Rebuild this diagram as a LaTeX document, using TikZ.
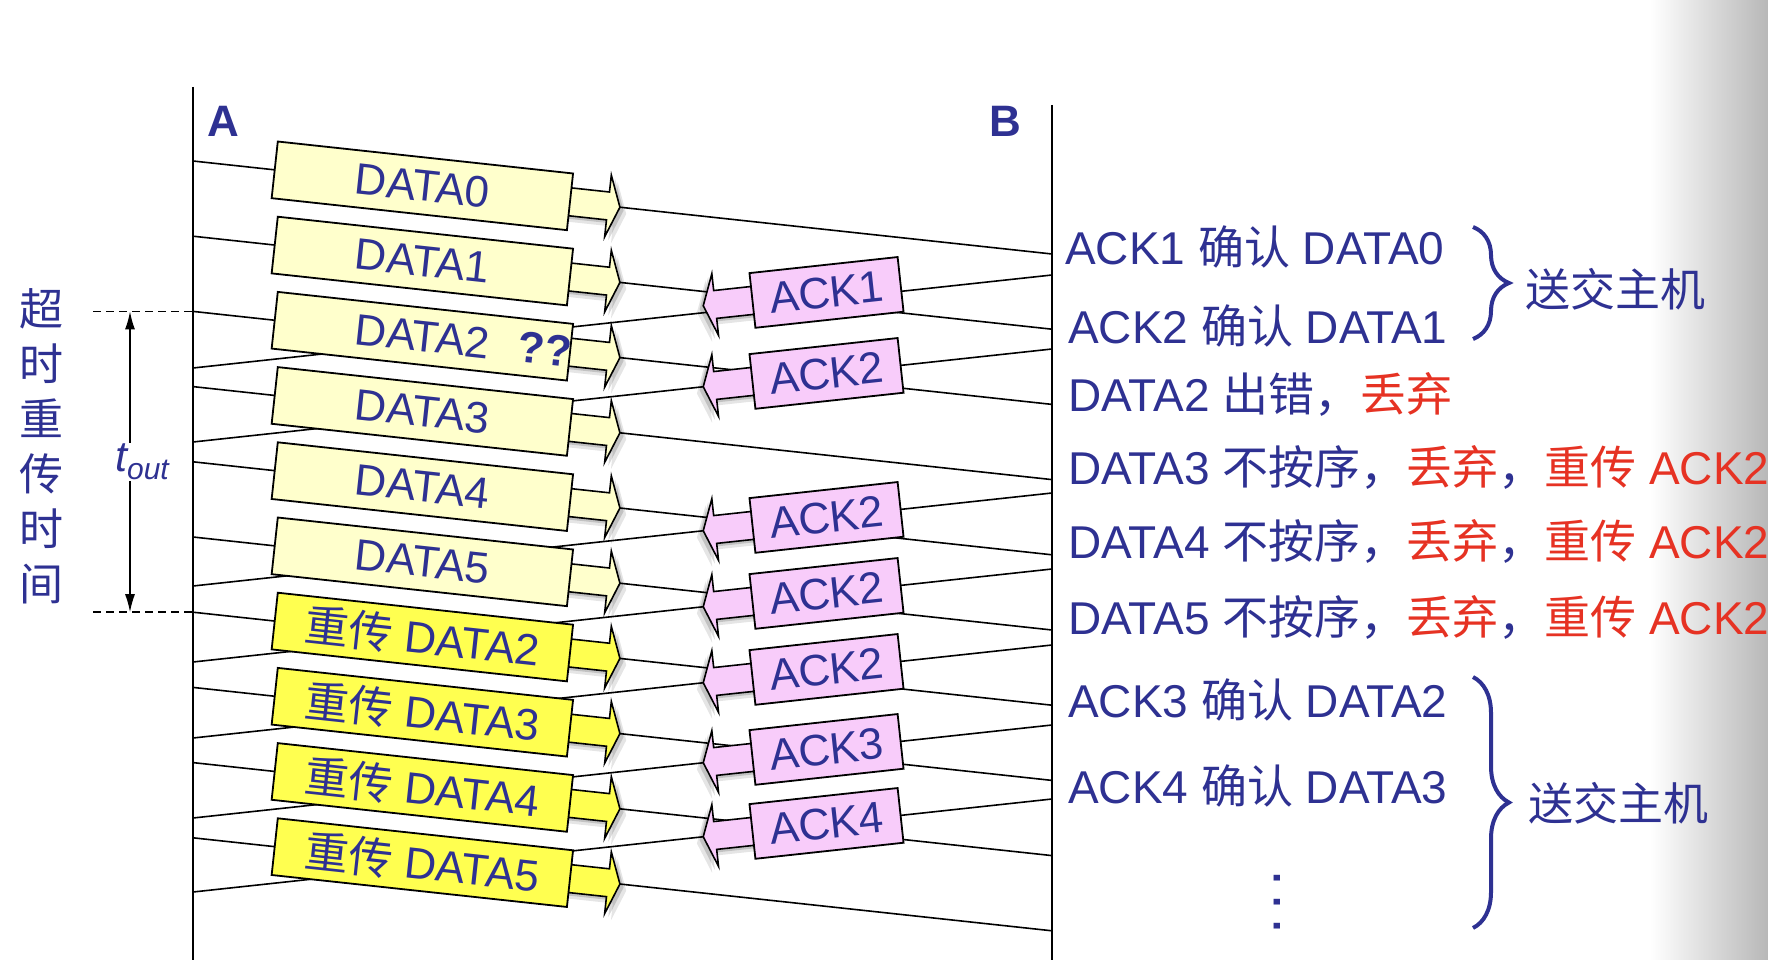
\documentclass[tikz,border=0pt]{standalone}
\usepackage{fontspec}
\setmainfont{Liberation Sans}
\newfontfamily\cjkfont{Noto Sans CJK SC}
\usetikzlibrary{calc,arrows.meta,decorations.pathreplacing}
\definecolor{tblue}{RGB}{46,49,146}
\definecolor{tred}{RGB}{230,50,35}
\definecolor{dyel}{RGB}{255,255,204}
\definecolor{ryel}{RGB}{255,255,80}
\definecolor{apink}{RGB}{248,204,250}
\newcommand\zh[1]{{\cjkfont #1}}
\begin{document}
\begin{tikzpicture}[x=1pt,y=-1pt,
  pline/.style={line width=1.6pt},
  axisline/.style={line width=2pt},
  boxbase/.style={draw, line width=1.8pt, minimum width=297pt, minimum height=57pt, inner sep=0pt, text=tblue, font=\fontsize{44}{44}\selectfont},
  databox/.style={boxbase, fill=dyel},
  redobox/.style={boxbase, fill=ryel},
  ackbox/.style={boxbase, fill=apink, minimum width=149pt, minimum height=55pt},
  rtext/.style={anchor=base west, inner sep=0pt, text=tblue, font=\fontsize{46}{46}\selectfont},
  hbrace/.style={decorate, decoration={brace, amplitude=36pt}, draw=tblue, line width=4pt},
  dashline/.style={line width=1.5pt, dash pattern=on 8pt off 5pt},
  darrow/.pic={
    \fill[black, opacity=0.10] (7,6) -- (-5,-25) -- (-5,-8) -- (-53,-8) -- (-53,20) -- (-5,20) -- (-5,37) -- cycle;
    \fill[black, opacity=0.15] (4,3) -- (-8,-28) -- (-8,-11) -- (-56,-11) -- (-56,17) -- (-8,17) -- (-8,34) -- cycle;
    \draw[line width=1.6pt, fill=#1] (0,0) -- (-12,-31) -- (-12,-14) -- (-60,-14) -- (-60,14) -- (-12,14) -- (-12,31) -- cycle;
  },
  karrow/.pic={
    \fill[black, opacity=0.10] (7,-6) -- (-5,25) -- (-5,8) -- (-53,8) -- (-53,-20) -- (-5,-20) -- (-5,-37) -- cycle;
    \fill[black, opacity=0.15] (4,-3) -- (-8,28) -- (-8,11) -- (-56,11) -- (-56,-17) -- (-8,-17) -- (-8,-34) -- cycle;
    \draw[line width=1.6pt, fill=apink] (0,0) -- (-12,-31) -- (-12,-14) -- (-60,-14) -- (-60,14) -- (-12,14) -- (-12,31) -- cycle;
  },
]
\useasboundingbox (0,0) rectangle (1768,960);
\fill[white] (0,0) rectangle (1768,960);
\shade[left color=white, right color=black!28] (1650,0) rectangle (1768,960);

% time axes
\coordinate (Atop) at (193,87);
\coordinate (Abot) at (193,960);
\coordinate (Btop) at (1052,105);
\coordinate (Bbot) at (1052,960);
\draw[axisline] (Atop) -- (Abot);
\draw[axisline] (Btop) -- (Bbot);
\node[text=tblue, font=\bfseries\fontsize{44}{44}\selectfont] (labA) at (223,121) {A};
\node[text=tblue, font=\bfseries\fontsize{44}{44}\selectfont] (labB) at (1005,121) {B};

% data lines
\foreach \i/\y in {0/161,1/236.2,2/311.4,3/386.6,4/461.8,5/537,6/612.2,7/687.4,8/762.6,9/837.8}{
  \coordinate (da\i) at (193,\y);
  \coordinate (db\i) at (1052,{\y+93});
}
% ack lines
\foreach \j/\y in {1/275,2/349,3/493,4/569,5/645,6/725,7/799}{
  \coordinate (kb\j) at (1052,\y);
  \coordinate (ka\j) at (193,{\y+93});
}
\foreach \i in {0,...,9} \draw[pline] (da\i) -- (db\i);
\foreach \j in {1,...,7} \draw[pline] (kb\j) -- (ka\j);

% data arrows and boxes
\foreach \i/\c in {0/dyel,1/dyel,2/dyel,3/dyel,4/dyel,5/dyel,6/ryel,7/ryel,8/ryel,9/ryel}
  \pic[rotate=-6.18] at ($(da\i)!0.497!(db\i)$) {darrow=\c};
\foreach \i in {0,1,3,4,5}
  \node[databox, rotate=-6.18] (d\i) at ($(da\i)!0.267!(db\i)$) {DATA\i};
\node[databox, rotate=-6.18] (d2) at ($(da2)!0.267!(db2)$) {DATA2\rlap{\hspace{0.65em}\textbf{??}}};
\foreach \i/\n in {6/2,7/3,8/4,9/5}
  \node[redobox, rotate=-6.18] (r\n) at ($(da\i)!0.267!(db\i)$) {\zh{重传} DATA\n};

% ack arrows and boxes
\foreach \j/\t/\dy in {1/ACK1/-7,2/ACK2/0,3/ACK2/0,4/ACK2/0,5/ACK2/0,6/ACK3/0,7/ACK4/0}{
  \pic[rotate=186.18] at ($(kb\j)!0.406!(ka\j)+(0,\dy)$) {karrow};
  \node[ackbox, rotate=6.18] (k\j) at ($(kb\j)!0.2625!(ka\j)+(0,\dy)$) {\t};
}

% timeout
\coordinate (dl1) at (93,311.4);
\coordinate (dl2) at (93,612.2);
\draw[dashline] (dl1) -- (da2);
\draw[dashline] (dl2) -- (da6);
\coordinate (u1) at (130,311.4);
\coordinate (u2) at (130,612.2);
\draw[line width=1.5pt, {Latex[length=18pt,width=10pt]}-{Latex[length=18pt,width=10pt]}] (u1) -- (u2)
  node[midway, fill=white, inner sep=1pt, xshift=12pt, text=tblue] (tout)
  {\fontsize{43}{43}\selectfont\itshape t\raisebox{-8pt}{\fontsize{30}{30}\selectfont out}};
\node[text=tblue, font=\cjkfont\fontsize{44}{55}\selectfont, align=center, inner sep=0pt] (vt) at (41,446) {超\\时\\重\\传\\时\\间};

% right column
\node[rtext] (n1) at (1065,264) {ACK1 \zh{确认} DATA0};
\node[rtext] (n2) at (1068,343) {ACK2 \zh{确认} DATA1};
\node[rtext] (n3) at (1068,411) {DATA2 \zh{出错，}\textcolor{tred}{\zh{丢弃}}};
\node[rtext] (n4) at (1068,484) {DATA3 \zh{不按序，}\textcolor{tred}{\zh{丢弃}}\zh{，}\textcolor{tred}{\zh{重传} ACK2}};
\node[rtext] (n5) at (1068,558) {DATA4 \zh{不按序，}\textcolor{tred}{\zh{丢弃}}\zh{，}\textcolor{tred}{\zh{重传} ACK2}};
\node[rtext] (n6) at (1068,634) {DATA5 \zh{不按序，}\textcolor{tred}{\zh{丢弃}}\zh{，}\textcolor{tred}{\zh{重传} ACK2}};
\node[rtext] (n7) at (1068,717) {ACK3 \zh{确认} DATA2};
\node[rtext] (n8) at (1068,803) {ACK4 \zh{确认} DATA3};
\node[text=tblue, font=\fontsize{60}{60}\selectfont, inner sep=0pt, rotate=90, anchor=base] (dots) at (1280,902) {.\hspace{7pt}.\hspace{7pt}.};

\coordinate (br1a) at (1473,227);
\coordinate (br1b) at (1473,339);
\coordinate (br2a) at (1473,677);
\coordinate (br2b) at (1473,928);
\draw[hbrace] (br1a) -- (br1b);
\draw[hbrace] (br2a) -- (br2b);
\node[text=tblue, font=\cjkfont\fontsize{45}{45}\selectfont, anchor=west, inner sep=0pt] (s1) at (1525,289) {送交主机};
\node[text=tblue, font=\cjkfont\fontsize{45}{45}\selectfont, anchor=west, inner sep=0pt] (s2) at (1528,803) {送交主机};
\end{tikzpicture}
\end{document}
